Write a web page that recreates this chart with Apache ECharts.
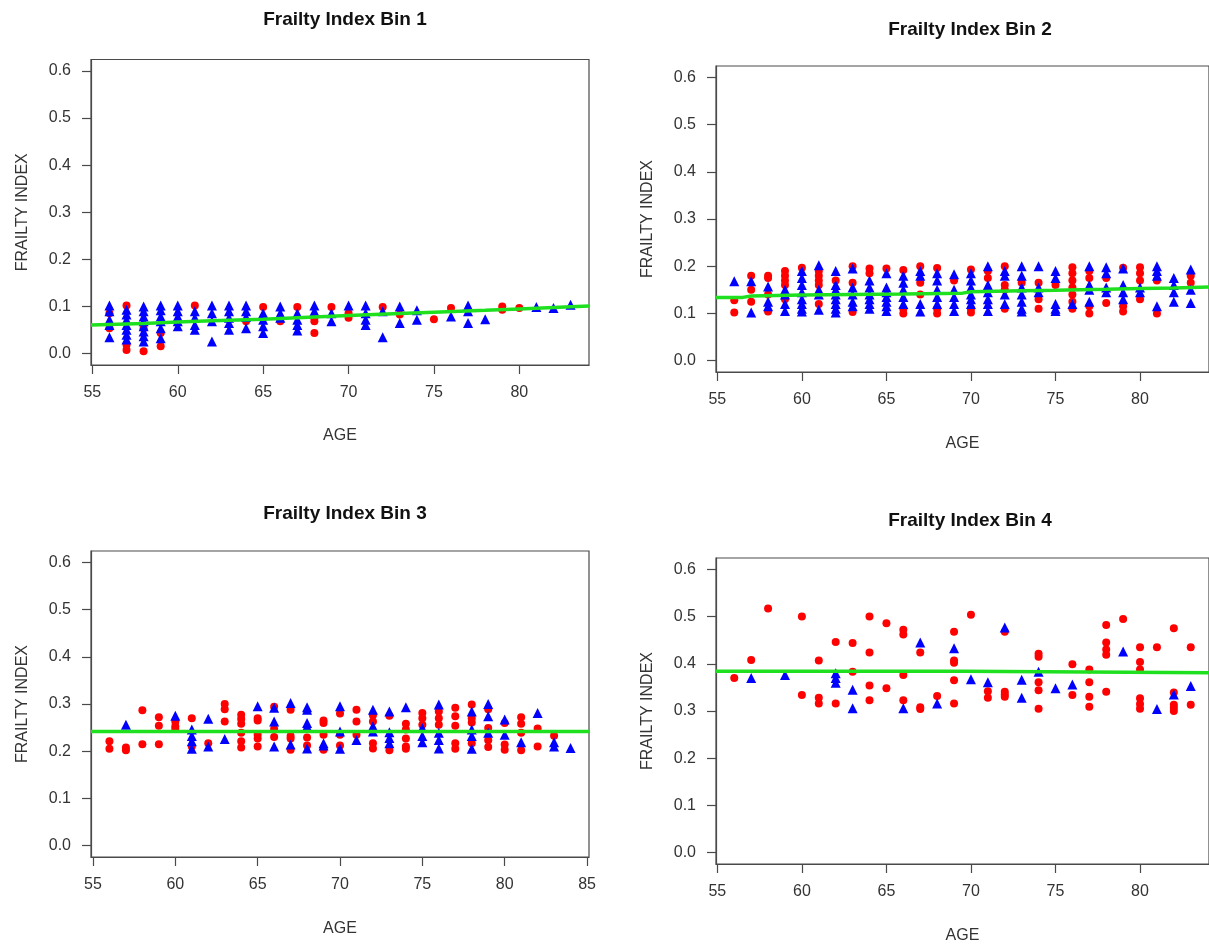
<!DOCTYPE html>
<html>
<head>
<meta charset="utf-8">
<script src="https://cdn.jsdelivr.net/npm/echarts@6/dist/echarts.min.js"></script>
<style>
html,body{margin:0;padding:0;background:#fff;}
#chart{width:1209px;height:947px;}
</style>
</head>
<body>
<div id="chart"></div>
<script>
// ---------- DATA ----------
const panelTitles = ['Frailty Index Bin 1', 'Frailty Index Bin 2', 'Frailty Index Bin 3', 'Frailty Index Bin 4'];
const xAxisTitle = 'AGE';
const yAxisTitle = 'FRAILTY INDEX';
const xTicksA = [55, 60, 65, 70, 75, 80];
const xTicksB = [55, 60, 65, 70, 75, 80, 85];
const yTicks = [0, 0.1, 0.2, 0.3, 0.4, 0.5, 0.6];

const bin1Red = [[56,0.086],[56,0.054],[57,0.102],[57,0.019],[57,0.008],[58,0.054],[58,0.005],[59,0.044],[59,0.016],[61,0.102],[64,0.069],[65,0.099],[66,0.069],[67,0.099],[68,0.076],[68,0.069],[68,0.044],[69,0.099],[70,0.086],[70,0.076],[72,0.099],[73,0.083],[75,0.073],[76,0.097],[79,0.100],[79,0.093],[80,0.097]];
const bin1Blue = [[56,0.102],[56,0.090],[56,0.072],[56,0.061],[56,0.035],
[57,0.093],[57,0.083],[57,0.072],[57,0.061],[57,0.051],[57,0.040],[57,0.030],
[58,0.100],[58,0.090],[58,0.079],[58,0.069],[58,0.058],[58,0.047],[58,0.037],[58,0.026],
[59,0.102],[59,0.092],[59,0.079],[59,0.069],[59,0.054],[59,0.033],
[60,0.102],[60,0.090],[60,0.079],[60,0.069],[60,0.058],
[61,0.090],[61,0.076],[61,0.061],[61,0.051],
[62,0.102],[62,0.086],[62,0.069],[62,0.026],
[63,0.102],[63,0.090],[63,0.076],[63,0.065],[63,0.051],
[64,0.102],[64,0.090],[64,0.078],[64,0.054],
[65,0.086],[65,0.072],[65,0.058],[65,0.044],
[66,0.100],[66,0.086],[66,0.076],
[67,0.086],[67,0.072],[67,0.061],[67,0.049],
[68,0.102],[68,0.090],
[69,0.086],[69,0.069],
[70,0.102],
[71,0.102],[71,0.086],[71,0.072],[71,0.061],
[72,0.090],[72,0.035],
[73,0.100],[73,0.065],
[74,0.092],[74,0.072],
[76,0.079],
[77,0.102],[77,0.090],[77,0.065],
[78,0.073],
[81,0.099],[82,0.097],[83,0.104]];
const bin1Line = [[54.92,0.061],[58,0.064],[60,0.067],[62,0.070],[65,0.073],[68,0.078],[70,0.081],[73,0.085],[75,0.088],[78,0.092],[80,0.095],[82,0.098],[84.08,0.101]];

const bin2Red = [[56,0.128],[56,0.102],
[57,0.180],[57,0.150],[57,0.125],
[58,0.180],[58,0.175],[58,0.140],[58,0.104],
[59,0.190],[59,0.180],[59,0.170],[59,0.160],[59,0.130],
[60,0.197],
[61,0.190],[61,0.180],[61,0.170],[61,0.160],[61,0.120],
[62,0.170],
[63,0.200],[63,0.165],[63,0.103],
[64,0.195],[64,0.185],
[65,0.195],
[66,0.192],[66,0.110],[66,0.100],
[67,0.200],[67,0.165],[67,0.140],
[68,0.196],[68,0.110],[68,0.100],
[69,0.170],
[70,0.193],[70,0.110],[70,0.102],
[71,0.190],[71,0.175],
[72,0.200],[72,0.160],[72,0.150],[72,0.110],
[73,0.165],
[74,0.165],[74,0.130],[74,0.110],
[75,0.160],
[76,0.198],[76,0.185],[76,0.170],[76,0.155],[76,0.140],[76,0.125],[76,0.110],
[77,0.190],[77,0.175],[77,0.115],[77,0.100],
[78,0.175],[78,0.122],
[79,0.197],[79,0.115],[79,0.104],
[80,0.198],[80,0.185],[80,0.170],[80,0.130],
[81,0.170],[81,0.100],
[83,0.180],[83,0.165]];
const bin2Blue = [[56,0.168],
[57,0.168],[57,0.102],
[58,0.157],[58,0.125],[58,0.115],
[59,0.150],[59,0.140],[59,0.120],[59,0.105],
[60,0.190],[60,0.175],[60,0.160],[60,0.145],[60,0.130],[60,0.120],[60,0.110],[60,0.104],
[61,0.202],[61,0.150],[61,0.140],[61,0.108],
[62,0.190],[62,0.160],[62,0.150],[62,0.140],[62,0.130],[62,0.120],[62,0.110],[62,0.102],
[63,0.195],[63,0.155],[63,0.140],[63,0.125],[63,0.115],
[64,0.170],[64,0.155],[64,0.140],[64,0.130],[64,0.120],[64,0.110],
[65,0.185],[65,0.155],[65,0.145],[65,0.135],[65,0.125],[65,0.115],[65,0.105],
[66,0.180],[66,0.165],[66,0.150],[66,0.135],[66,0.120],
[67,0.190],[67,0.180],[67,0.120],[67,0.104],
[68,0.185],[68,0.170],[68,0.150],[68,0.135],[68,0.120],
[69,0.183],[69,0.150],[69,0.135],[69,0.120],[69,0.105],
[70,0.185],[70,0.170],[70,0.155],[70,0.140],[70,0.130],[70,0.120],
[71,0.200],[71,0.160],[71,0.145],[71,0.130],[71,0.120],[71,0.105],
[72,0.190],[72,0.180],[72,0.140],[72,0.120],
[73,0.200],[73,0.180],[73,0.155],[73,0.140],[73,0.125],[73,0.110],[73,0.104],
[74,0.200],[74,0.155],[74,0.145],
[75,0.190],[75,0.175],[75,0.120],[75,0.110],[75,0.105],
[76,0.120],
[77,0.200],[77,0.160],[77,0.150],[77,0.125],
[78,0.198],[78,0.185],[78,0.155],[78,0.145],
[79,0.195],[79,0.160],[79,0.145],[79,0.130],
[80,0.155],[80,0.145],
[81,0.200],[81,0.190],[81,0.180],[81,0.115],
[82,0.175],[82,0.160],[82,0.145],[82,0.125],
[83,0.193],[83,0.150],[83,0.122]];
const bin2Line = [[54.92,0.134],[56.5,0.134],[57,0.137],[60,0.139],[63,0.140],[66,0.141],[69.5,0.143],[70,0.146],[73,0.148],[75,0.149],[78,0.151],[80,0.153],[82,0.154],[84.08,0.156]];

const bin3Red = [[56,0.221],[56,0.205],[57,0.208],[57,0.202],[58,0.287],[58,0.215],[59,0.272],[59,0.254],[59,0.215],[60,0.263],[60,0.253],[60,0.247],[61,0.270],[61,0.210],[62,0.217],[63,0.300],[63,0.289],[63,0.263],[64,0.277],[64,0.268],[64,0.258],[64,0.239],[64,0.221],[64,0.208],[65,0.270],[65,0.265],[65,0.235],[65,0.227],[65,0.210],[66,0.294],[66,0.247],[66,0.230],[67,0.288],[67,0.232],[67,0.227],[67,0.203],[68,0.229],[68,0.212],[69,0.265],[69,0.260],[69,0.235],[69,0.203],[70,0.280],[70,0.235],[70,0.212],[71,0.288],[71,0.263],[71,0.235],[72,0.276],[72,0.263],[72,0.217],[72,0.206],[73,0.275],[73,0.202],[74,0.258],[74,0.246],[74,0.227],[74,0.210],[74,0.205],[75,0.281],[75,0.270],[75,0.256],[76,0.284],[76,0.270],[76,0.256],[77,0.292],[77,0.274],[77,0.254],[77,0.217],[77,0.205],[78,0.299],[78,0.270],[78,0.261],[78,0.217],[79,0.289],[79,0.249],[79,0.223],[79,0.209],[80,0.260],[80,0.214],[80,0.203],[81,0.272],[81,0.258],[81,0.239],[81,0.202],[82,0.248],[82,0.210],[83,0.233]];
const bin3Blue = [[57,0.256],[60,0.275],[61,0.246],[61,0.232],[61,0.221],[61,0.205],[62,0.269],[62,0.210],[63,0.226],[65,0.295],[66,0.292],[66,0.263],[66,0.210],[67,0.302],[67,0.214],[68,0.293],[68,0.288],[68,0.260],[68,0.253],[68,0.206],[69,0.217],[69,0.212],[70,0.295],[70,0.242],[70,0.205],[71,0.224],[72,0.288],[72,0.253],[72,0.242],[73,0.284],[73,0.240],[73,0.228],[73,0.217],[74,0.293],[75,0.249],[75,0.232],[75,0.219],[76,0.299],[76,0.239],[76,0.224],[76,0.206],[78,0.284],[78,0.246],[78,0.232],[78,0.205],[79,0.300],[79,0.274],[79,0.239],[80,0.267],[80,0.235],[81,0.219],[82,0.281],[83,0.219],[83,0.210],[84,0.207]];
const bin3Line = [[54.88,0.242],[85.12,0.242]];

const bin4Red = [[56,0.370],[57,0.408],[58,0.517],[60,0.500],[60,0.334],[61,0.407],[61,0.328],[61,0.316],[62,0.446],[62,0.316],[63,0.444],[63,0.383],[64,0.500],[64,0.424],[64,0.354],[64,0.323],[65,0.486],[65,0.348],[66,0.472],[66,0.462],[66,0.376],[66,0.323],[67,0.424],[67,0.308],[67,0.304],[68,0.332],[69,0.468],[69,0.407],[69,0.402],[69,0.365],[69,0.316],[70,0.504],[71,0.342],[71,0.328],[72,0.468],[72,0.341],[72,0.335],[72,0.330],[74,0.421],[74,0.415],[74,0.361],[74,0.344],[74,0.305],[76,0.399],[76,0.334],[77,0.388],[77,0.361],[77,0.330],[77,0.309],[78,0.482],[78,0.445],[78,0.430],[78,0.419],[78,0.341],[79,0.495],[80,0.435],[80,0.404],[80,0.388],[80,0.327],[80,0.315],[80,0.305],[81,0.435],[82,0.475],[82,0.339],[82,0.313],[82,0.307],[82,0.300],[83,0.435],[83,0.313]];
const bin4Blue = [[57,0.370],[59,0.376],[62,0.380],[62,0.370],[62,0.360],[63,0.345],[63,0.306],[66,0.306],[67,0.445],[68,0.316],[69,0.433],[70,0.367],[71,0.361],[72,0.477],[73,0.366],[73,0.328],[74,0.383],[75,0.348],[76,0.356],[79,0.426],[81,0.304],[82,0.335],[83,0.353]];
const bin4Line = [[54.92,0.384],[69.5,0.384],[69.6,0.381],[84.08,0.381]];

// ---------- LAYOUT / BUILD ----------
const FONT = '"Liberation Sans", Arial, sans-serif';
const panels = [
  {title: panelTitles[0], red: bin1Red, blue: bin1Blue, line: bin1Line, xTicks: xTicksA, xMin: 54.92, xMax: 84.08,
   left: 91, top: 59.5, width: 498, height: 305.5, titleX: 340, titleY: 5, xNameGap: 63},
  {title: panelTitles[1], red: bin2Red, blue: bin2Blue, line: bin2Line, xTicks: xTicksA, xMin: 54.92, xMax: 84.08,
   left: 716, top: 66, width: 498.5, height: 306, titleX: 965, titleY: 15, xNameGap: 64},
  {title: panelTitles[2], red: bin3Red, blue: bin3Blue, line: bin3Line, xTicks: xTicksB, xMin: 54.88, xMax: 85.12,
   left: 91, top: 551, width: 498, height: 306, titleX: 340, titleY: 499, xNameGap: 64},
  {title: panelTitles[3], red: bin4Red, blue: bin4Blue, line: bin4Line, xTicks: xTicksA, xMin: 54.92, xMax: 84.08,
   left: 716, top: 558, width: 498.5, height: 306, titleX: 965, titleY: 506, xNameGap: 64}
];

const axisColor = '#4a4a4a';
const option = {
  backgroundColor: '#ffffff',
  animation: false,
  title: [], grid: [], xAxis: [], yAxis: [], series: []
};

panels.forEach((p, i) => {
  option.title.push({
    text: p.title, left: p.titleX, top: p.titleY, textAlign: 'center',
    textStyle: {fontFamily: FONT, fontSize: 19, fontWeight: 'bold', color: '#111'}
  });
  option.grid.push({
    left: p.left, top: p.top, width: p.width, height: p.height,
    show: true, borderColor: axisColor, borderWidth: 1.2, backgroundColor: 'transparent'
  });
  option.xAxis.push({
    gridIndex: i, type: 'value', min: p.xMin, max: p.xMax,
    name: xAxisTitle, nameLocation: 'middle', nameGap: p.xNameGap,
    nameTextStyle: {fontFamily: FONT, fontSize: 16, color: '#333'},
    axisLine: {show: true, onZero: false, lineStyle: {color: axisColor, width: 1.2}},
    axisTick: {show: true, length: 9, customValues: p.xTicks, lineStyle: {color: axisColor, width: 1.2}},
    axisLabel: {customValues: p.xTicks, margin: 20, fontFamily: FONT, fontSize: 16, color: '#333'},
    splitLine: {show: false}
  });
  option.yAxis.push({
    gridIndex: i, type: 'value', min: -0.024, max: 0.624,
    name: yAxisTitle, nameLocation: 'middle', nameGap: 60, nameRotate: 90,
    nameTextStyle: {fontFamily: FONT, fontSize: 16, color: '#333'},
    axisLine: {show: true, onZero: false, lineStyle: {color: axisColor, width: 1.2}},
    axisTick: {show: true, length: 9, customValues: yTicks, lineStyle: {color: axisColor, width: 1.2}},
    axisLabel: {customValues: yTicks, margin: 20, fontFamily: FONT, fontSize: 16, color: '#333',
      formatter: v => Number(v).toFixed(1)},
    splitLine: {show: false}
  });
  option.series.push({
    type: 'scatter', xAxisIndex: i, yAxisIndex: i, data: p.red,
    symbol: 'circle', symbolSize: 8, itemStyle: {color: '#ff0000', opacity: 1}
  });
  option.series.push({
    type: 'scatter', xAxisIndex: i, yAxisIndex: i, data: p.blue,
    symbol: 'triangle', symbolSize: 10, itemStyle: {color: '#0000ff', opacity: 1}
  });
  option.series.push({
    type: 'line', xAxisIndex: i, yAxisIndex: i, data: p.line,
    showSymbol: false, clip: true, lineStyle: {color: '#1fe01f', width: 3.5}, z: 5
  });
});

const chart = echarts.init(document.getElementById('chart'), null, {renderer: 'canvas'});
chart.setOption(option);
</script>
</body>
</html>
